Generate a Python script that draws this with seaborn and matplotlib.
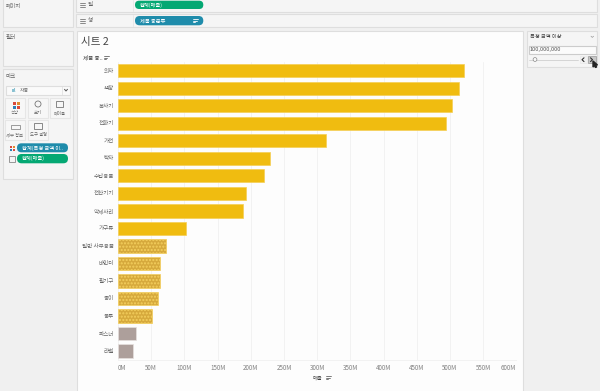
import pandas as pd
import seaborn as sns
import matplotlib.pyplot as plt
from matplotlib.patches import FancyBboxPatch, Rectangle, Circle

categories = ['의자', '책장', '복사기', '전화기', '가전', '탁자', '수납용품', '전산기기', '악세사리', '가구류',
              '일반 사무용품', '바인더', '필기구', '종이', '봉투', '파스너', '라벨']
sales = [521.6, 513.6, 503, 494.5, 312.8, 228.4, 219.4, 192.8, 188.7, 102,
         71.8, 63.7, 62.8, 60.2, 51.7, 27.6, 22.1]
tiers = ['high'] * 10 + ['mid'] * 5 + ['low'] * 2
tier_colors = {'high': '#f0bc10', 'mid': '#d6a93c', 'low': '#ad9f9b'}
x_ticks = [0, 50, 100, 150, 200, 250, 300, 350, 400, 450, 500, 550, 600]

W, H = 600, 391
FONT = ['Noto Sans CJK KR', 'DejaVu Sans']
GREEN = '#04a873'
BLUE = '#1f8cab'
TXT = '#666666'

sns.set_theme(style='white')
plt.rcParams['font.family'] = FONT
plt.rcParams['hatch.linewidth'] = 1.0

fig = plt.figure(figsize=(W / 100, H / 100), dpi=100, facecolor='#f0f0f0')

# Tableau UI around the chart, in pixel coordinates
ui = fig.add_axes([0, 0, 1, 1], zorder=0)
ui.set_xlim(0, W)
ui.set_ylim(H, 0)
ui.axis('off')


def panel(x0, y0, x1, y1, fc='#f5f5f5', ec='#dedede', lw=0.8):
    ui.add_patch(Rectangle((x0, y0), x1 - x0, y1 - y0, fc=fc, ec=ec, lw=lw))


def pill(x0, y0, x1, y1, color):
    r = (y1 - y0) / 2
    ui.add_patch(FancyBboxPatch((x0 + r, y0 + r), x1 - x0 - 2 * r, 0,
                                boxstyle=f'round,pad={r},rounding_size={r}', fc=color, ec='none', lw=0))


def label(x, y, s, size=4, color=TXT, ha='left'):
    ui.text(x, y, s, fontsize=size, color=color, ha=ha, va='center')


def sort_icon(x, y, color='#666666'):
    for i, w in enumerate([5, 3.5, 2]):
        ui.plot([x, x + w], [y - 1.5 + i * 1.5] * 2, color=color, lw=0.6)


panel(3, -2, 73, 26.7)
panel(3, 30.7, 73, 65.7)
panel(3, 69, 73, 179)
panel(76, -2, 597, 11.7)
panel(76, 14.3, 597, 26.7)
panel(76.7, 30.7, 523, 392, fc='#fdfdfd')
panel(526.7, 30.7, 596.7, 67)
ui.plot([133, 133], [0, 11], color='#e6e6e6', lw=0.6)
ui.plot([133, 133], [15, 26], color='#e6e6e6', lw=0.6)

label(6, 5.5, '페이지')
label(6, 37.5, '필터')
label(6, 76, '마크')

# mark card
panel(5.5, 85.5, 70, 95, fc='#fafafa')
ui.plot([61.5, 61.5], [86, 94.5], color='#dddddd', lw=0.5)
label(20, 90, '자동', 3.6)
label(12, 90, 'ııl', 4, BLUE)
ui.plot([64.5, 66, 67.5], [89.3, 91, 89.3], color='#555555', lw=0.7)
cards = [(5, 98, '색상'), (28, 98, '크기'), (50, 98, '레이블'), (5, 120, '세부 정보'), (28, 120, '도구 설명')]
for cx, cy, name in cards:
    panel(cx, cy, cx + 20, cy + 19.5, fc='#f7f7f7', ec='#e6e6e6')
    label(cx + 10, cy + 15, name, 3.1, ha='center')
for dx, dy, c in [(13, 102, '#d9483b'), (17, 102, '#e08a2d'), (13, 106, '#2f7fb5'), (17, 106, '#d9483b')]:
    ui.add_patch(Rectangle((dx, dy), 2.5, 2.5, fc=c, ec='none'))
ui.add_patch(Circle((38, 104), 3, fc='none', ec='#777777', lw=0.6))
ui.add_patch(Rectangle((56, 101), 7, 6, fc='none', ec='#777777', lw=0.6))
ui.add_patch(Rectangle((10.5, 125), 9, 4, fc='none', ec='#777777', lw=0.5))
ui.add_patch(Rectangle((34, 123), 8, 6, fc='none', ec='#777777', lw=0.6))
for dx, dy, c in [(10, 146, '#d9483b'), (13, 146, '#e08a2d'), (10, 149, '#2f7fb5'), (13, 149, '#d9483b')]:
    ui.add_patch(Rectangle((dx, dy), 2.2, 2.2, fc=c, ec='none'))
ui.add_patch(Rectangle((8.5, 155.5), 6.5, 6, fc='none', ec='#888888', lw=0.6))
pill(17, 143.3, 68, 152.3, BLUE)
pill(17, 154, 68, 163.3, GREEN)
label(22, 147.8, '합계(특정 금액 이..', 3.8, 'white')
label(22, 158.6, '합계(매출)', 3.8, 'white')

# shelves
label(88, 5, '열')
label(88, 20.5, '행')
for i in range(3):
    ui.plot([80, 85], [3 + i * 2] * 2, color='#777777', lw=0.6)
    ui.plot([80, 85], [18.5 + i * 2] * 2, color='#777777', lw=0.6)
pill(135, 0.7, 203.3, 9, GREEN)
pill(135, 16, 203.3, 25.3, BLUE)
label(140, 5, '합계(매출)', 3.8, 'white')
label(140, 20.7, '제품 중분류', 3.8, 'white')
sort_icon(193, 20.5, 'white')

# sheet titles
label(81, 41.5, '시트 2', 7.6, '#444444')
label(83, 57.7, '제품 중..', 4, '#444444')
sort_icon(103.5, 57.5)
label(313, 378, '매출', 3.8, '#444444')
sort_icon(326, 377.5)

# parameter card
label(529.5, 37, '특정 금액 이상', 3.8, '#444444')
ui.plot([591, 592.3, 593.6], [36.2, 37.4, 36.2], color='#999999', lw=0.5)
panel(528.5, 45.5, 595.5, 54, fc='#fbfbfb', ec='#cccccc')
label(530, 50, '100,000,000', 4.1, '#555555')
ui.plot([529, 578], [59.5, 59.5], color='#cfcfcf', lw=0.6)
ui.add_patch(Circle((535, 59.5), 1.9, fc='#fafafa', ec='#888888', lw=0.5, zorder=3))
panel(579.5, 56, 586.5, 63, fc='#f2f2f2', ec='#e6e6e6', lw=0.4)
panel(588, 56, 595.5, 63, fc='#c8c8c8', ec='#999999', lw=0.5)
ui.plot([584, 582, 584], [57.8, 59.7, 61.6], color='#333333', lw=0.8)
ui.plot([590.5, 592.5, 590.5], [57.8, 59.7, 61.6], color='#333333', lw=0.8)
ui.fill([593, 593, 594.5, 595.5, 596.5, 595.5, 597.5], [61, 67, 65.5, 67.5, 67, 65, 65],
        color='#222222', zorder=4)

# chart
df = pd.DataFrame({'category': categories, 'sales': sales, 'tier': tiers})
left, right, top, bottom = 118, 516.4, 61.9, 359.8
ax = fig.add_axes([left / W, 1 - bottom / H, (right - left) / W, (bottom - top) / H], zorder=1)
ax.patch.set_alpha(0)
sns.barplot(data=df, x='sales', y='category', hue='tier', dodge=False, palette=tier_colors,
            width=0.76, legend=False, saturation=1, ax=ax, zorder=2)
for cont, tier in zip(ax.containers, tier_colors):
    for bar in cont:
        bar.set_linewidth(0.5)
        if tier == 'mid':
            bar.set_hatch('.....')
            bar.set_edgecolor('#f4cf5e')
        elif tier == 'high':
            bar.set_edgecolor('#f5cf55')
        else:
            bar.set_edgecolor('#e6e0de')

ax.set_xlim(0, 600)
ax.set_xticks(x_ticks)
ax.set_xticklabels([f'{t}M' for t in x_ticks])
labels = ax.get_xticklabels()
labels[0].set_ha('left')
labels[-1].set_ha('right')
ax.xaxis.grid(True, color='#f2f2f2', lw=0.7, zorder=0)
ax.yaxis.grid(False)
ax.set_axisbelow(True)
ax.tick_params(axis='x', labelsize=4.5, labelcolor='#808080', length=0, pad=3)
ax.tick_params(axis='y', labelsize=4, labelcolor='#666666', length=0, pad=3)
ax.set_xlabel('')
ax.set_ylabel('')
sns.despine(ax=ax, left=True, top=True, right=True)
ax.spines['bottom'].set_color('#f2f2f2')
ax.spines['bottom'].set_linewidth(0.7)

fig.savefig('out.png', dpi=100, facecolor=fig.get_facecolor())
